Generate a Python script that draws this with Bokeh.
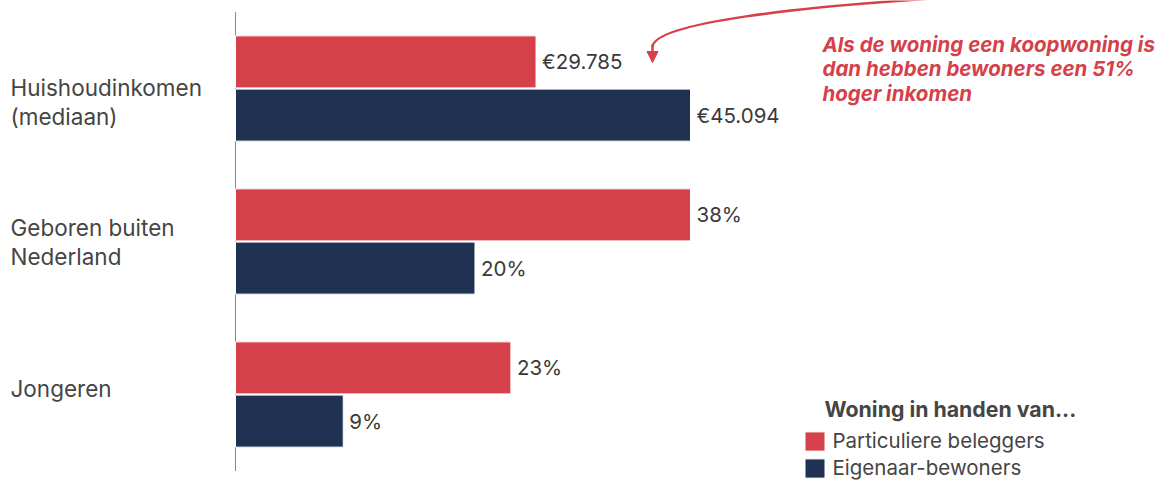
from bokeh.plotting import figure
from bokeh.models import (ColumnDataSource, Range1d, Label, Legend, LegendItem,
                          Arrow, NormalHead)
from bokeh.transform import dodge
from bokeh.core.properties import value
from bokeh.embed import file_html
from bokeh.resources import INLINE

# ---------------- data ----------------
categories = ["Huishoudinkomen\n(mediaan)", "Geboren buiten\nNederland", "Jongeren"]
series_names = ["Particuliere beleggers", "Eigenaar-bewoners"]
income_beleggers = [29785]
income_eigenaar = [45094]
pct_categories = ["Geboren buiten\nNederland", "Jongeren"]
pct_beleggers = [38, 23]
pct_eigenaar = [20, 9]
annotation_text = "Als de woning een koopwoning is\ndan hebben bewoners een 51%\nhoger inkomen"
legend_title = "Woning in handen van..."

RED = "#d6404a"
NAVY = "#1f3252"
TXT = "#454545"
FONT = "Inter"

# ---------------- layout (pixels) ----------------
W, H = 1174, 480
ZERO_PX = 235          # pixel of value 0
PCT_PX = 455 / 38      # pixels per percentage point
ROW_PX = 153           # pixels per category
FIRST_ROW_PX = 88      # pixel of first category centre

x0 = -ZERO_PX / PCT_PX
x1 = (W - ZERO_PX) / PCT_PX
inc_per_px = max(income_eigenaar) / (max(pct_beleggers) * PCT_PX)
y_top = -FIRST_ROW_PX / ROW_PX
y_bot = (H - FIRST_ROW_PX) / ROW_PX

def dx(px):
    return x0 + px / PCT_PX

def dy(py):
    return y_top + py / ROW_PX

p = figure(width=W, height=H, output_backend="svg", toolbar_location=None,
           x_range=Range1d(x0, x1), y_range=Range1d(y_bot, y_top),
           min_border=0, outline_line_color=None)
p.extra_x_ranges = {"income": Range1d(-ZERO_PX * inc_per_px, (W - ZERO_PX) * inc_per_px)}
p.xaxis.visible = False
p.yaxis.visible = False
p.grid.visible = False
p.background_fill_color = "white"
p.border_fill_color = "white"

OFF = 0.174
BH = 0.34

idx = {c: i for i, c in enumerate(categories)}

inc_src = ColumnDataSource(dict(
    y=[idx[categories[0]]],
    bel=income_beleggers, eig=income_eigenaar,
    bel_lbl=[f"€{v:,}".replace(",", ".") for v in income_beleggers],
    eig_lbl=[f"€{v:,}".replace(",", ".") for v in income_eigenaar],
))
pct_src = ColumnDataSource(dict(
    y=[idx[c] for c in pct_categories],
    bel=pct_beleggers, eig=pct_eigenaar,
    bel_lbl=[f"{v}%" for v in pct_beleggers],
    eig_lbl=[f"{v}%" for v in pct_eigenaar],
))

# category axis line
p.segment(x0=[0], y0=[-0.5], x1=[0], y1=[len(categories) - 0.5],
          line_color="#8a8a8a", line_width=1)

r_bel = p.hbar(y=dodge("y", -OFF), right="bel", left=0, height=BH, source=pct_src,
               fill_color=RED, line_color="white", line_width=1)
r_eig = p.hbar(y=dodge("y", OFF), right="eig", left=0, height=BH, source=pct_src,
               fill_color=NAVY, line_color="white", line_width=1)
p.hbar(y=dodge("y", -OFF), right="bel", left=0, height=BH, source=inc_src,
       fill_color=RED, line_color="white", line_width=1, x_range_name="income")
p.hbar(y=dodge("y", OFF), right="eig", left=0, height=BH, source=inc_src,
       fill_color=NAVY, line_color="white", line_width=1, x_range_name="income")

lbl_kw = dict(text_font=value(FONT), text_font_size="20.5px", text_color="#3a3a3a",
              text_baseline="middle", text_align="left", x_offset=6)
p.text(x="bel", y=dodge("y", -OFF), text="bel_lbl", source=pct_src, **lbl_kw)
p.text(x="eig", y=dodge("y", OFF), text="eig_lbl", source=pct_src, **lbl_kw)
p.text(x="bel", y=dodge("y", -OFF), text="bel_lbl", source=inc_src, x_range_name="income", **lbl_kw)
p.text(x="eig", y=dodge("y", OFF), text="eig_lbl", source=inc_src, x_range_name="income", **lbl_kw)

# category labels
cat_src = ColumnDataSource(dict(x=[x0] * len(categories), y=list(range(len(categories))),
                                text=categories, yo=[13.5, 0.5, -6]))
p.text(x="x", y="y", text="text", source=cat_src, x_offset=10, y_offset="yo",
       text_font=value(FONT), text_font_size="22.5px", text_color=TXT,
       text_baseline="middle", text_align="left", text_line_height=1.07)

# annotation
p.add_layout(Label(x=822, y=H - 31, x_units="screen", y_units="screen",
                   text=annotation_text, text_font=FONT, text_font_size="20.5px",
                   text_font_style="bold italic", text_color=RED,
                   text_baseline="top", text_align="left", text_line_height=0.98))
p.bezier(x0=[dx(948)], y0=[dy(-3)], x1=[dx(652)], y1=[dy(46)],
         cx0=[dx(800)], cy0=[dy(6)], cx1=[dx(655)], cy1=[dy(22)],
         line_color=RED, line_width=2.5)
p.add_layout(Arrow(x_start=dx(652), y_start=dy(44), x_end=dx(652), y_end=dy(62),
                   line_color=RED, line_width=2.5,
                   end=NormalHead(size=11, fill_color=RED, line_color=RED)))

# legend
p.add_layout(Label(x=824, y=H - 408, x_units="screen", y_units="screen",
                   text=legend_title, text_font=FONT, text_font_size="21.3px",
                   text_font_style="bold", text_color=TXT, text_baseline="middle"))
legend = Legend(items=[LegendItem(label=series_names[0], renderers=[r_bel]),
                       LegendItem(label=series_names[1], renderers=[r_eig])],
                location=(801.5, 0), orientation="vertical",
                glyph_width=25, glyph_height=24, label_height=20, spacing=2,
                label_standoff=6, padding=0, margin=0,
                border_line_color=None, background_fill_alpha=0,
                label_text_font=FONT, label_text_font_size="20.5px", label_text_color=TXT)
p.add_layout(legend)

open("out.html", "w").write(file_html(p, INLINE))
